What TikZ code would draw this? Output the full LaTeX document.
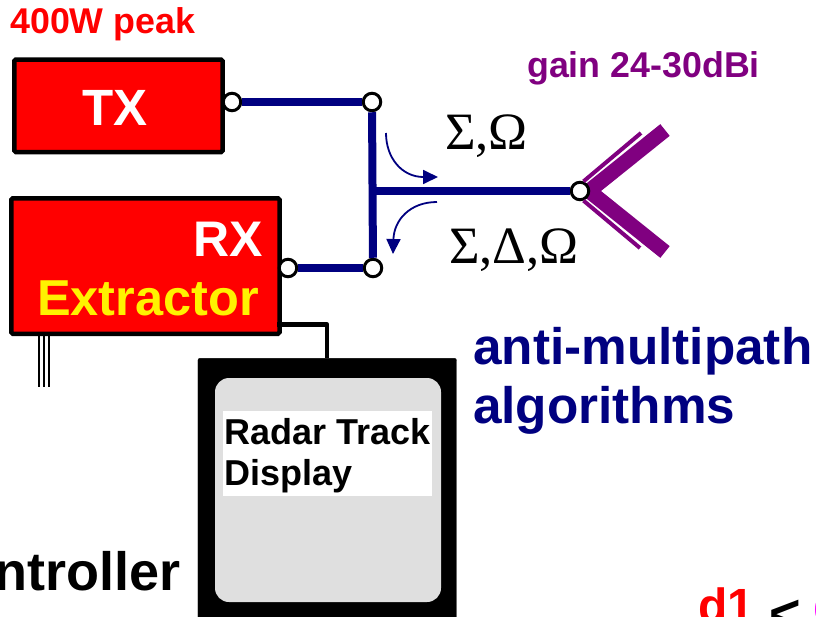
\documentclass[tikz,border=0pt]{standalone}
\usepackage{fontspec}
\usepackage{tikz}
\usetikzlibrary{arrows.meta}
\setmainfont{Liberation Sans}
\newfontfamily\greekfont{Liberation Serif}
\definecolor{feed-navy}{HTML}{000080}
\definecolor{dish-purple}{HTML}{800080}
\definecolor{screen-gray}{HTML}{DFDFDF}
\definecolor{label-magenta}{HTML}{FF00FF}
\newcommand{\fsize}[1]{\fontsize{#1}{#1}\selectfont\bfseries}

\begin{document}
\begin{tikzpicture}[x=1pt, y=-1pt,
	box/.style={draw=black, fill=red, line width=4.5pt, rounded corners=1.5pt, inner sep=0pt},
	port/.style={draw=black, fill=white, circle, line width=3pt, minimum size=17.5pt, inner sep=0pt},
	feed/.style={draw=feed-navy, line width=7.5pt},
	flow/.style={draw=feed-navy, line width=1.8pt, -{Triangle[length=15pt, width=14pt]}},
	txt/.style={inner sep=0pt, anchor=base west}]
	\useasboundingbox (0,0) rectangle (816,616);
	\clip (0,0) rectangle (816,616);

	\coordinate (d1) at (665,130);
	\coordinate (d2) at (589,191);
	\coordinate (d3) at (665,252);
	\draw[dish-purple, line width=15pt] (d1) -- (d2) -- (d3);

	\node[box, minimum width=208.25pt, minimum height=92.5pt] (tx) at (118.4,105.8) {};
	\node[box, minimum width=268.25pt, minimum height=135.5pt] (rx) at (145.4,266) {};
	\node[draw=black, fill=black, rounded corners=2pt, minimum width=258.5pt, minimum height=262pt, inner sep=0pt] (dsp) at (327.2,489.3) {};
	\node[fill=screen-gray, rounded corners=14pt, minimum width=226pt, minimum height=224pt, inner sep=0pt] (scr) at (328,490) {};
	\node[fill=white, minimum width=209.5pt, minimum height=85pt, inner sep=0pt] (lbl) at (327.25,453.5) {};

	\node[port] (p1) at (232,102) {};
	\node[port] (p2) at (372,102) {};
	\node[port] (p3) at (288,268) {};
	\node[port] (p4) at (373,268) {};
	\node[port] (p5) at (580,191) {};
	\coordinate (j1) at (373,191);

	\draw[feed] (p1) -- (p2);
	\draw[feed] (p3) -- (p4);
	\draw[feed, line width=8pt] (p2) -- (p4);
	\draw[feed, line width=8pt] (j1) -- (p5);

	\coordinate (t1) at (641,133);
	\coordinate (t2) at (640,248);
	\draw[dish-purple, line width=4pt] (t1) -- (p5.70);
	\draw[dish-purple, line width=4pt] (t2) -- (p5.-70);

	\coordinate (f1) at (386,133);
	\coordinate (f2) at (438,177);
	\coordinate (f3) at (437,202);
	\coordinate (f4) at (393,254);
	\path[flow] (f1) .. controls (386,158) and (402,177) .. (f2);
	\path[flow] (f3) .. controls (410,202) and (394,220) .. (f4);

	\coordinate (c1) at (277,324.5);
	\coordinate (c2) at (327,324.5);
	\draw[line width=4.5pt, line join=round] (c1) -- (c2) -- (dsp.north -| c2);

	\coordinate (b1) at (38.5,387);
	\coordinate (b2) at (43.5,387);
	\coordinate (b3) at (48.5,387);
	\draw[line width=2pt] (rx.south -| b1) -- (b1);
	\draw[line width=2pt] (rx.south -| b2) -- (b2);
	\draw[line width=2pt] (rx.south -| b3) -- (b3);

	\node[txt, text=white] (txl) at (82,125) {\fsize{51}TX};
	\node[txt, text=red] (pk) at (10,33) {\fsize{35.8}400W peak};
	\node[txt, text=dish-purple] (gn) at (527,77) {\fsize{35.8}gain 24-30dBi};
	\node[txt, text=white] (rxl) at (193,256) {\fsize{50}RX};
	\node[txt, text=yellow] (exl) at (37,315) {\fsize{50.5}Extractor};
	\node[txt, text=black] (sg1) at (445,149) {\greekfont\fontsize{52.5}{52.5}\selectfont Σ,Ω};
	\node[txt, text=black] (sg2) at (449,263) {\greekfont\fontsize{52.5}{52.5}\selectfont Σ,Δ,Ω};
	\node[txt, text=feed-navy] (alg) at (473,364) {\fsize{51.3}anti-multipath};
	\node[txt, text=feed-navy] (alh) at (473,423) {\fsize{51.3}algorithms};
	\node[txt, text=black] (r1) at (224,444) {\fsize{36}Radar Track};
	\node[txt, text=black] (r2) at (224,485) {\fsize{36}Display};
	\node[txt, text=black] (ct) at (-6,590) {\fsize{54}ntroller};
	\node[txt, text=red] (dd) at (698,622) {\fsize{48}d1};
	\node[txt, text=black] (lt) at (769,632) {\fsize{54}<};
	\node[txt, text=label-magenta] (de) at (813.5,622) {\fsize{48}d};
\end{tikzpicture}
\end{document}
